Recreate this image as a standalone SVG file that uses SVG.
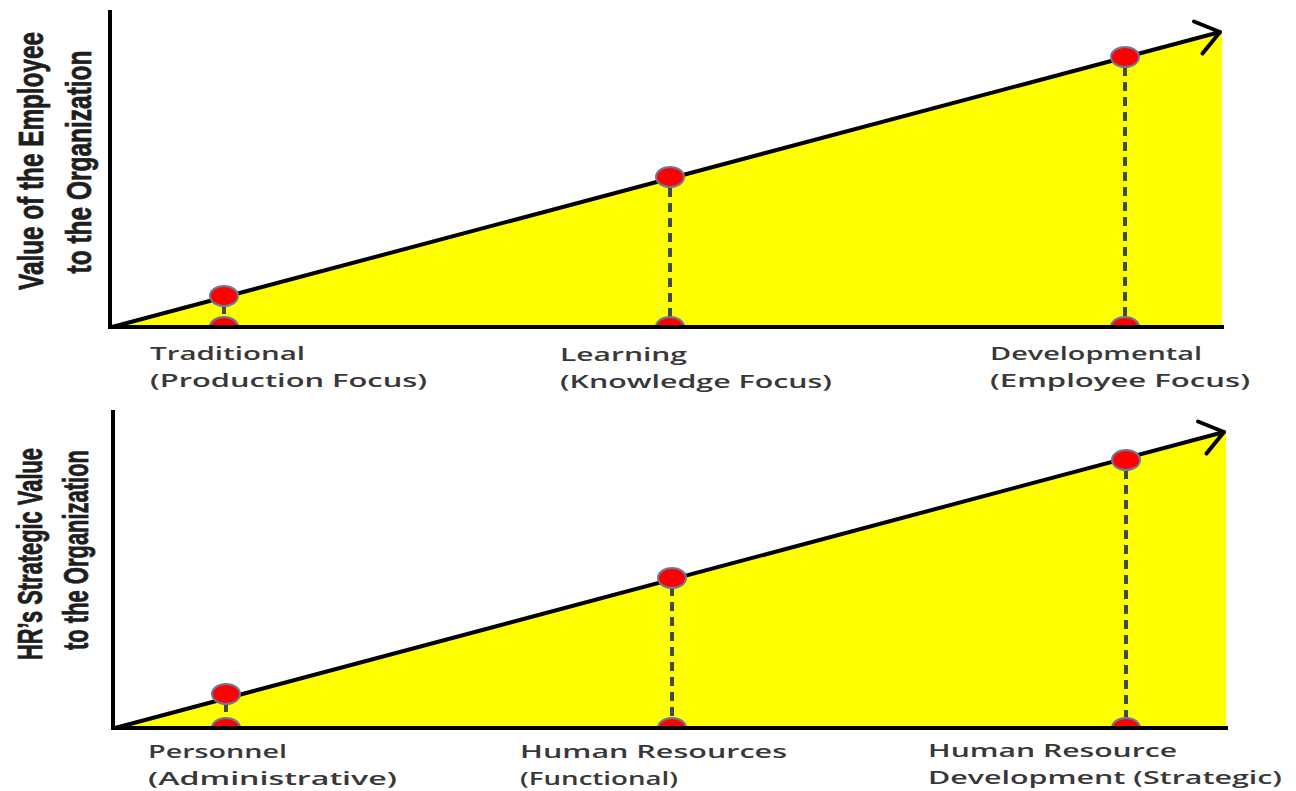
<svg xmlns="http://www.w3.org/2000/svg" width="1296" height="791" viewBox="0 0 1296 791">
<defs>
<style>
.fill{fill:#ffff00;stroke:none}
.axis{stroke:#000;stroke-width:4;fill:none;stroke-linecap:square}
.trend{stroke:#000;stroke-width:4;fill:none;stroke-linecap:round;stroke-linejoin:round}
.dash{stroke:#3f4d41;stroke-width:4;stroke-dasharray:9 6;fill:none}
.dot{fill:#ff0000;stroke:#6f7896;stroke-width:2}
.lbl{font-family:"Open Sans","Liberation Sans",sans-serif;font-size:18px;font-weight:600;fill:#383838}
.ylbl{font-family:"Liberation Sans","DejaVu Sans",sans-serif;font-weight:bold;font-size:23px;fill:#1e1e1e;stroke:#1e1e1e;stroke-width:0.5;text-anchor:middle}
</style>
</defs>
<rect width="1296" height="791" fill="#ffffff"/>

<g id="chart-top">
<polygon class="fill" points="112,327 1222,32 1222,327"/>
</g>
<g id="chart-bottom">
<polygon class="fill" points="115,728 1226,432 1226,728"/>
</g>

<g id="connectors">
<line class="dash" x1="224" y1="305" x2="224" y2="320"/>
<line class="dash" x1="670" y1="188" x2="670" y2="320"/>
<line class="dash" x1="1125" y1="67" x2="1125" y2="320"/>
<line class="dash" x1="226" y1="703" x2="226" y2="721"/>
<line class="dash" x1="672" y1="587" x2="672" y2="721"/>
<line class="dash" x1="1126" y1="470" x2="1126" y2="721"/>
</g>

<g id="bottom-markers">
<path class="dot" d="M210,327 A14,10 0 0 1 238,327 Z"/>
<path class="dot" d="M656,327 A14,10 0 0 1 684,327 Z"/>
<path class="dot" d="M1111,327 A14,10 0 0 1 1139,327 Z"/>
<path class="dot" d="M212,728 A14,10 0 0 1 240,728 Z"/>
<path class="dot" d="M658,728 A14,10 0 0 1 686,728 Z"/>
<path class="dot" d="M1112,728 A14,10 0 0 1 1140,728 Z"/>
</g>

<g id="axes">
<polyline class="axis" points="110,12 110,327 1222,327"/>
<line class="trend" x1="112" y1="327" x2="1220" y2="32"/>
<polyline class="trend" points="1194,21.5 1220,32 1202.5,53.5"/>
<polyline class="axis" points="113,412 113,728 1226,728"/>
<line class="trend" x1="115" y1="728" x2="1224" y2="432"/>
<polyline class="trend" points="1198,421.5 1224,432 1206.5,453.5"/>
</g>

<g id="node-traditional">
<ellipse class="dot" cx="224" cy="296" rx="14" ry="10"/>
<text class="lbl" x="150" y="360" textLength="155" lengthAdjust="spacingAndGlyphs">Traditional</text>
<text class="lbl" x="150" y="387" textLength="277" lengthAdjust="spacingAndGlyphs">(Production Focus)</text>
</g>
<g id="node-learning">
<ellipse class="dot" cx="670" cy="177" rx="14" ry="10"/>
<text class="lbl" x="560" y="361" textLength="127" lengthAdjust="spacingAndGlyphs">Learning</text>
<text class="lbl" x="560" y="388" textLength="272" lengthAdjust="spacingAndGlyphs">(Knowledge Focus)</text>
</g>
<g id="node-developmental">
<ellipse class="dot" cx="1125" cy="57" rx="14" ry="10"/>
<text class="lbl" x="990" y="360" textLength="212" lengthAdjust="spacingAndGlyphs">Developmental</text>
<text class="lbl" x="990" y="387" textLength="260" lengthAdjust="spacingAndGlyphs">(Employee Focus)</text>
</g>
<g id="node-personnel">
<ellipse class="dot" cx="226" cy="694" rx="14" ry="10"/>
<text class="lbl" x="148" y="758" textLength="139" lengthAdjust="spacingAndGlyphs">Personnel</text>
<text class="lbl" x="148" y="785" textLength="249" lengthAdjust="spacingAndGlyphs">(Administrative)</text>
</g>
<g id="node-human-resources">
<ellipse class="dot" cx="672" cy="578" rx="14" ry="10"/>
<text class="lbl" x="520" y="758" textLength="267" lengthAdjust="spacingAndGlyphs">Human Resources</text>
<text class="lbl" x="520" y="785" textLength="158" lengthAdjust="spacingAndGlyphs">(Functional)</text>
</g>
<g id="node-hrd">
<ellipse class="dot" cx="1126" cy="460" rx="14" ry="10"/>
<text class="lbl" x="928" y="757" textLength="249" lengthAdjust="spacingAndGlyphs">Human Resource</text>
<text class="lbl" x="928" y="784" textLength="354" lengthAdjust="spacingAndGlyphs">Development (Strategic)</text>
</g>

<g id="ylabel-top">
<text class="ylbl" transform="translate(43,161) rotate(-90) scale(1,1.5)" x="0" y="0" textLength="258" lengthAdjust="spacingAndGlyphs">Value of the Employee</text>
<text class="ylbl" transform="translate(91,162) rotate(-90) scale(1,1.5)" x="0" y="0" textLength="223" lengthAdjust="spacingAndGlyphs">to the Organization</text>
</g>
<g id="ylabel-bottom">
<text class="ylbl" transform="translate(42,554) rotate(-90) scale(1,1.5)" x="0" y="0" textLength="212" lengthAdjust="spacingAndGlyphs">HR’s Strategic Value</text>
<text class="ylbl" transform="translate(88,550) rotate(-90) scale(1,1.5)" x="0" y="0" textLength="200" lengthAdjust="spacingAndGlyphs">to the Organization</text>
</g>
</svg>
